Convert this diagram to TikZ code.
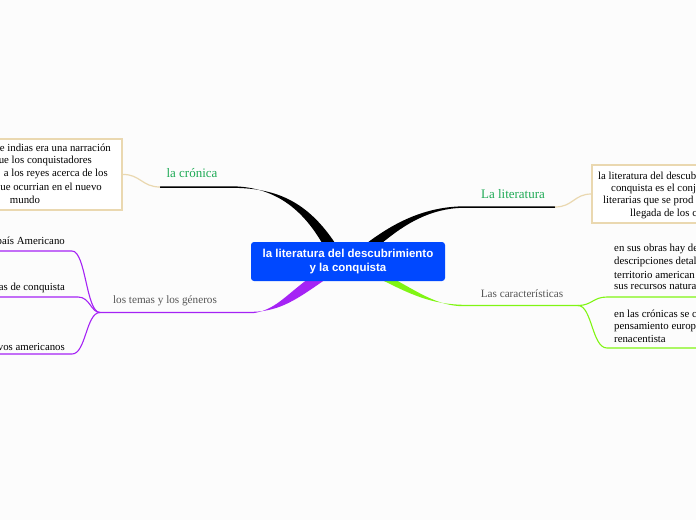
\documentclass[tikz,border=0pt]{standalone}
\usepackage{fontspec}
\setmainfont{Liberation Serif}
\newfontfamily\centerfont{Liberation Sans}
\definecolor{cblue}{RGB}{0,72,255}
\definecolor{cgreen}{RGB}{30,170,85}
\definecolor{cpurple}{RGB}{165,35,245}
\definecolor{clime}{RGB}{128,245,20}
\definecolor{ctan}{RGB}{234,216,176}
\definecolor{cgray}{RGB}{85,85,85}
\definecolor{cbg}{RGB}{252,252,252}
\tikzset{
  bodytext/.style={font=\fontsize{10.8}{13}\selectfont, text=black, inner sep=0pt},
  graylabel/.style={font=\fontsize{11.2}{13}\selectfont, text=cgray, inner sep=0pt},
  greenlabel/.style={font=\fontsize{13}{15}\selectfont, text=cgreen, inner sep=0pt},
  centerbox/.style={fill=cblue, rounded corners=3pt, minimum width=194pt, minimum height=39pt,
    text=white, align=center, font=\centerfont\bfseries\fontsize{11.5}{13.5}\selectfont, inner sep=0pt},
  notebox/.style={draw=ctan, line width=1.2pt, fill=white},
  tanline/.style={ctan, line width=1.2pt},
  purpleline/.style={cpurple, line width=1.1pt},
  limeline/.style={clime, line width=1.1pt},
}
\begin{document}
\begin{tikzpicture}[x=1pt,y=-1pt]
\useasboundingbox (0,0) rectangle (696,520);
\fill[cbg] (0,0) rectangle (696,520);

% main branches (tapered)
\fill[black] (160,186.3) -- (230,186.3) .. controls (270,186) and (300,205) .. (322,243)
  -- (335,243) .. controls (305,198) and (272,187.8) .. (230,187.8) -- (160,187.8) -- cycle;
\fill[black] (555,206.3) -- (463,206.3) .. controls (425,207) and (395,222) .. (367,243)
  -- (382,243) .. controls (405,224) and (430,208.5) .. (463,207.8) -- (555,207.8) -- cycle;
\fill[cpurple] (100,311.8) -- (253,311.8) .. controls (280,311) and (296,300) .. (326,279)
  -- (308,279) .. controls (285,296) and (275,310) .. (253,313.2) -- (100,313.2) -- cycle;
\fill[clime] (578,304.8) -- (463,304.8) .. controls (430,304) and (410,294) .. (380,279)
  -- (394,279) .. controls (418,292) and (438,306) .. (463,306.2) -- (578,306.2) -- cycle;

% coordinates
\coordinate (lbend) at (160,187);
\coordinate (rbend) at (555,207);
\coordinate (pj) at (100,312.5);
\coordinate (gj) at (578,305.5);

% note boxes
\node[notebox, minimum width=132pt, minimum height=71pt, inner sep=0pt] (lbox) at (56,174.5) {};
\node[notebox, minimum width=120pt, minimum height=58pt, inner sep=0pt] (rbox) at (652,194) {};

% tan connectors
\draw[tanline] (lbox.east) .. controls (140,174) and (142,187) .. (lbend);
\draw[tanline] (rbend) .. controls (573,207) and (574,194) .. (rbox.west);

% left box text
\node[bodytext, anchor=east] (l1) at (111,148) {e indias era una narración};
\node[bodytext, anchor=east] (l2) at (92,161) {ue los conquistadores};
\node[bodytext, anchor=east] (l3) at (108,174) {a los reyes acerca de los};
\node[bodytext, anchor=east] (l4) at (102,187) {ue ocurrian en el nuevo};
\node[bodytext] (l5) at (25,200) {mundo};

% right box text
\node[bodytext, anchor=west] (r1) at (598,176) {la literatura del descub};
\node[bodytext, anchor=west] (r2) at (611,188.5) {conquista es el conj};
\node[bodytext, anchor=west] (r3) at (603,201) {literarias que se prod};
\node[bodytext, anchor=west] (r4) at (630,213.5) {llegada de los c};

% labels
\node[greenlabel] (cron) at (192,173) {la crónica};
\node[greenlabel] (lit) at (513,194) {La literatura};
\node[graylabel] (temas) at (165,301) {los temas y los géneros};
\node[graylabel] (carac) at (522,294) {Las características};

% purple sub-branches
\coordinate (p1) at (0,251);
\coordinate (p2) at (0,297);
\coordinate (p3) at (0,354);
\draw[purpleline] (pj) .. controls (86,312.5) and (86,251) .. (72,251) -- (p1);
\draw[purpleline] (pj) .. controls (91,312.5) and (90,297) .. (78,297) -- (p2);
\draw[purpleline] (pj) .. controls (86,312.5) and (86,354) .. (72,354) -- (p3);
\node[bodytext, anchor=east] (t1) at (65,242) {país Americano};
\node[bodytext, anchor=east] (t2) at (65,288) {as de conquista};
\node[bodytext, anchor=east] (t3) at (65,347) {vos americanos};

% lime sub-branches
\coordinate (g1) at (696,297);
\coordinate (g2) at (696,348);
\draw[limeline] (gj) .. controls (592,305.5) and (593,297) .. (607,297) -- (g1);
\draw[limeline] (gj) .. controls (592,305.5) and (592,348) .. (607,348) -- (g2);
\node[bodytext, anchor=west] (a1) at (614,249) {en sus obras hay de};
\node[bodytext, anchor=west] (a2) at (614,262) {descripciones detal};
\node[bodytext, anchor=west] (a3) at (614,275) {territorio american};
\node[bodytext, anchor=west] (a4) at (614,287) {sus recursos natura};
\node[bodytext, anchor=west] (b1) at (614,314) {en las crónicas se c};
\node[bodytext, anchor=west] (b2) at (614,327) {pensamiento europ};
\node[bodytext, anchor=west] (b3) at (614,339) {renacentista};

% center node
\node[centerbox] (center) at (348,261.5) {la literatura del descubrimiento\\y la conquista};
\end{tikzpicture}
\end{document}
